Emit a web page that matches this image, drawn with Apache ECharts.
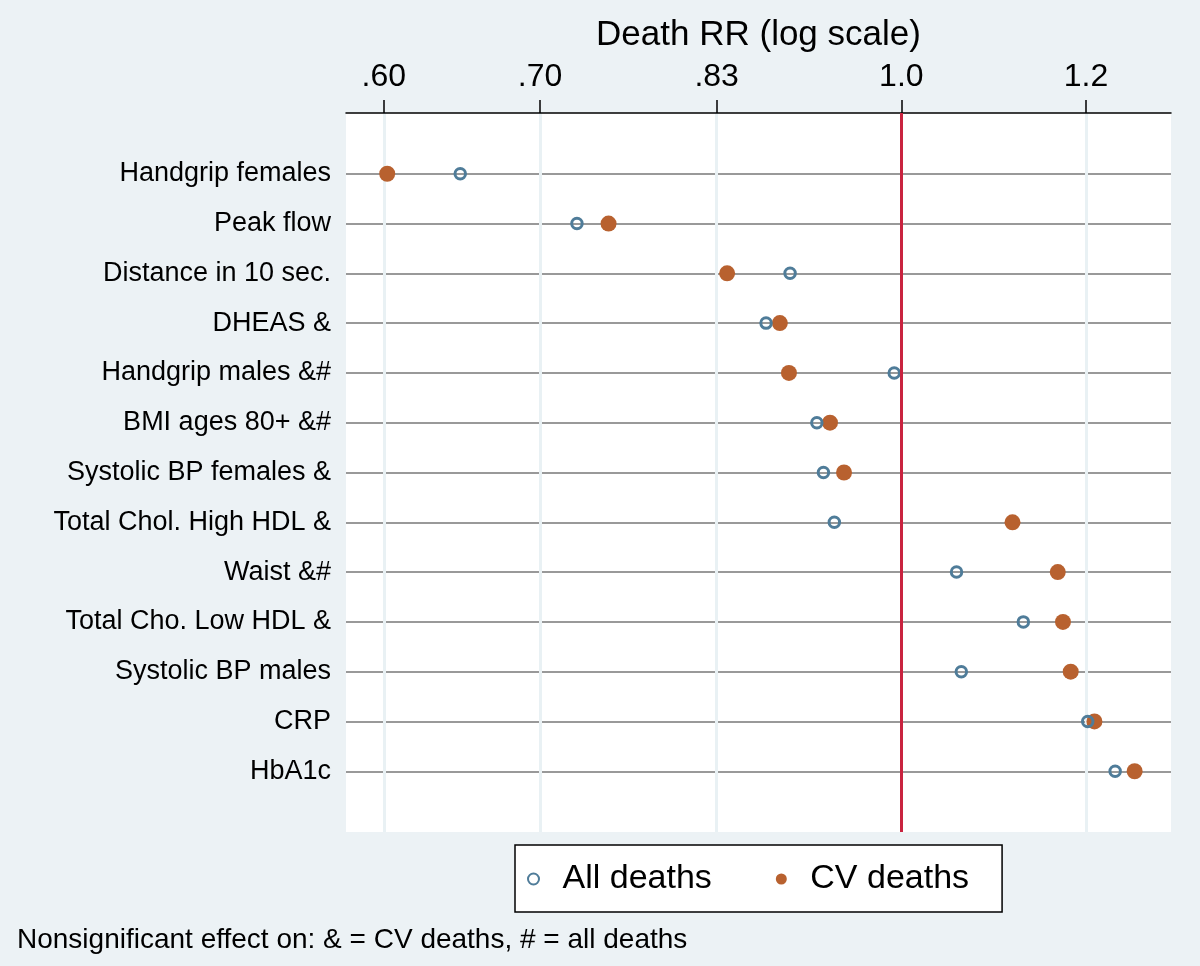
<!DOCTYPE html>
<html>
<head>
<meta charset="utf-8">
<title>Death RR</title>
<script src="https://cdn.jsdelivr.net/npm/echarts@6/dist/echarts.min.js"></script>
<style>
  html, body { margin: 0; padding: 0; background: #ecf2f5; }
  #chart { width: 1200px; height: 966px; }
</style>
</head>
<body>
<div id="chart"></div>
<script>
// rows, top to bottom
const categories = [
  "Handgrip females", "Peak flow", "Distance in 10 sec.", "DHEAS &",
  "Handgrip males &#", "BMI ages 80+ &#", "Systolic BP females &",
  "Total Chol. High HDL &", "Waist &#", "Total Cho. Low HDL &",
  "Systolic BP males", "CRP", "HbA1c"
];
// relative risks
const allDeaths = [0.647, 0.726, 0.896, 0.875, 0.993, 0.920, 0.926, 0.936, 1.056, 1.128, 1.061, 1.202, 1.235];
const cvDeaths = [0.602, 0.749, 0.842, 0.887, 0.895, 0.932, 0.945, 1.116, 1.167, 1.173, 1.182, 1.210, 1.259];

// log axis ticks
const tickValues = [0.6, 0.7, 1 / 1.2, 1.0, 1.2];
const tickLabels = [".60", ".70", ".83", "1.0", "1.2"];
const refValue = 1.0;
const xRange = [0.578, 1.305];

const font = "Liberation Sans";
const chart = echarts.init(document.getElementById("chart"));

const logTicks = tickValues.map(v => Math.log(v));
const rowIdx = categories.map((c, i) => i);

function tickLabel(v) {
  for (let i = 0; i < logTicks.length; i++) {
    if (Math.abs(logTicks[i] - v) < 1e-6) return tickLabels[i];
  }
  return "";
}

const option = {
  backgroundColor: "#ecf2f5",
  animation: false,
  grid: {
    left: 346, right: 29, top: 113, bottom: 134,
    backgroundColor: "#fff", show: true, borderWidth: 0,
    outerBoundsMode: "none"
  },
  xAxis: {
    type: "value",
    position: "top",
    min: Math.log(xRange[0]),
    max: Math.log(xRange[1]),
    name: "Death RR (log scale)",
    nameLocation: "middle",
    nameGap: 60,
    nameMoveOverlap: false,
    nameTextStyle: { fontFamily: font, fontSize: 35, color: "#000" },
    axisLine: { onZero: false, lineStyle: { color: "#000", width: 1.5 } },
    axisTick: { customValues: logTicks, length: 13, lineStyle: { color: "#000", width: 1.5 } },
    axisLabel: {
      customValues: logTicks,
      formatter: tickLabel,
      margin: 20,
      fontFamily: font, fontSize: 32, color: "#000"
    },
    splitLine: { show: true, lineStyle: { color: "#e9f1f4", width: 3 } }
  },
  yAxis: {
    type: "value",
    inverse: true,
    min: -1.22,
    max: categories.length - 1 + 1.22,
    axisLine: { show: false, onZero: false },
    axisTick: { show: false, customValues: rowIdx },
    axisLabel: {
      customValues: rowIdx,
      formatter: v => categories[v],
      margin: 15,
      fontFamily: font, fontSize: 27, color: "#000"
    },
    splitLine: { show: true, lineStyle: { color: "#999", width: 2 } }
  },
  legend: {
    left: 515, top: 845,
    orient: "horizontal",
    backgroundColor: "#fff",
    borderColor: "#000",
    borderWidth: 1.5,
    borderRadius: 0,
    padding: [17, 33, 16, 12],
    itemGap: 64,
    itemWidth: 48,
    itemHeight: 11,
    textStyle: { fontFamily: font, fontSize: 34, color: "#000" },
    data: [
      { name: "All deaths", itemStyle: { borderWidth: 2 } },
      { name: "CV deaths" }
    ]
  },
  series: [
    {
      name: "CV deaths",
      type: "scatter",
      symbol: "circle",
      symbolSize: 16,
      z: 3,
      itemStyle: { color: "#b8612f", opacity: 1 },
      data: cvDeaths.map((v, i) => [Math.log(v), i]),
      markLine: {
        silent: true,
        symbol: "none",
        label: { show: false },
        lineStyle: { color: "#c9233f", width: 3, type: "solid" },
        data: [{ xAxis: Math.log(refValue) }]
      }
    },
    {
      name: "All deaths",
      type: "scatter",
      symbol: "circle",
      symbolSize: 10.5,
      z: 4,
      itemStyle: { color: "rgba(255,255,255,0)", borderColor: "#4f7c99", borderWidth: 3, opacity: 1 },
      data: allDeaths.map((v, i) => [Math.log(v), i])
    }
  ],
  graphic: [
    {
      type: "text",
      left: 17, top: 926,
      style: {
        text: "Nonsignificant effect on: & = CV deaths, # = all deaths",
        fontFamily: font, fontSize: 28, fill: "#000"
      }
    }
  ]
};

chart.setOption(option);
</script>
</body>
</html>
